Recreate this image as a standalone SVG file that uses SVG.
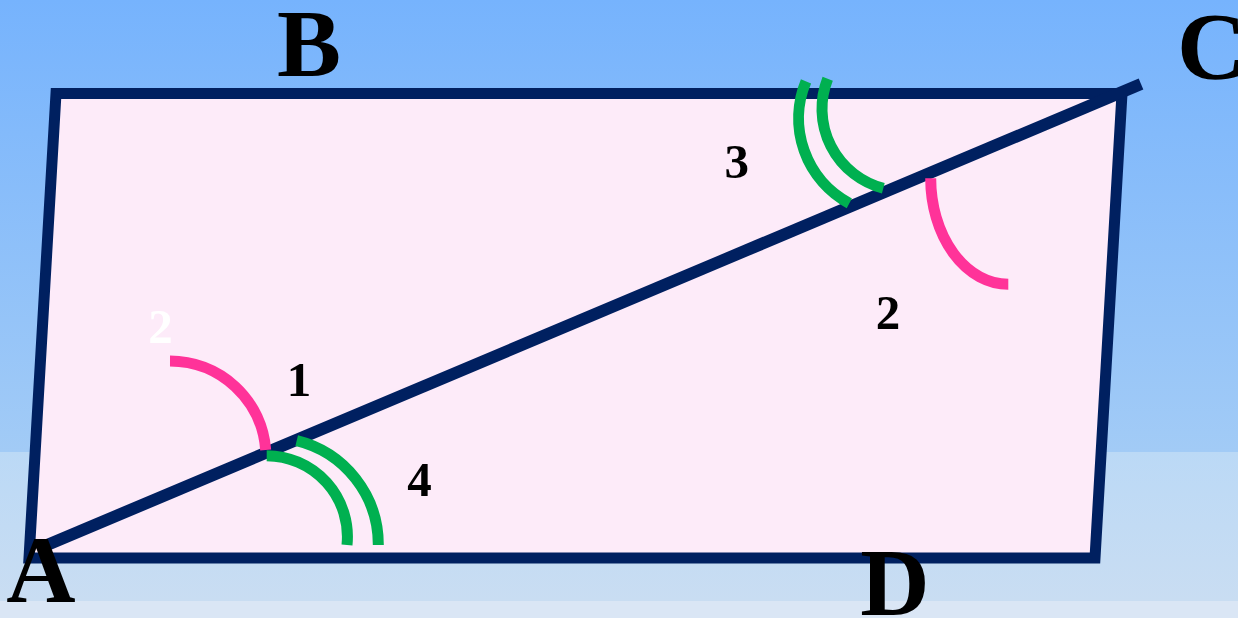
<svg xmlns="http://www.w3.org/2000/svg" width="1238" height="618" viewBox="0 0 1238 618">
<defs>
<linearGradient id="sky" x1="0" y1="0" x2="0" y2="1">
<stop offset="0" stop-color="#76b3fd"/>
<stop offset="1" stop-color="#a2cbf6"/>
</linearGradient>
<linearGradient id="band" x1="0" y1="0" x2="0" y2="1">
<stop offset="0" stop-color="#bbd9f6"/>
<stop offset="1" stop-color="#c9ddf2"/>
</linearGradient>
</defs>
<style>
.edge{fill:#fdebf9;stroke:#002060;stroke-width:11;stroke-linejoin:miter}
.green{fill:none;stroke:#00b050;stroke-width:11}
.pink{fill:none;stroke:#ff3399;stroke-width:11}
.big{font-family:"Liberation Serif","Times New Roman",serif;font-weight:bold;font-size:96px;fill:#000}
.num{font-family:"Liberation Serif","Times New Roman",serif;font-weight:bold;font-size:49px;fill:#000;text-anchor:middle}
.white{fill:#ffffff}
</style>
<rect x="0" y="0" width="1238" height="452" fill="url(#sky)"/>
<rect x="0" y="452" width="1238" height="149" fill="url(#band)"/>
<rect x="0" y="601" width="1238" height="17" fill="#dae6f5"/>

<g id="parallelogram">
<polygon points="56,93.5 1122,93.5 1095,558 29,558" class="edge"/>
</g>

<g id="connectors">
<line x1="40" y1="548" x2="1141" y2="84" stroke="#002060" stroke-width="12"/>
</g>

<g id="angle-marks">
<path class="pink" d="M170,361 A96 96 0 0 1 265.7,450"/>
<path class="green" d="M266.7,455.7 A81 81 0 0 1 347,545"/>
<path class="green" d="M296.7,440.7 A107 107 0 0 1 378.3,545"/>
<path class="green" d="M806,81.3 A96.6 96.6 0 0 0 849.3,203.3"/>
<path class="green" d="M827.7,78.7 A82.2 82.2 0 0 0 883.3,188.3"/>
<path class="pink" d="M930.7,178.3 A77.6 106 0 0 0 1008.3,284.3"/>
</g>

<g id="labels">
<text id="label-B" class="big" x="309" y="76" text-anchor="middle">B</text>
<text id="label-C" class="big" x="1177" y="79">C</text>
<text id="label-A" class="big" x="41" y="602" text-anchor="middle">A</text>
<text id="label-D" class="big" x="895" y="615" text-anchor="middle">D</text>
<text class="num" x="299" y="396">1</text>
<text class="num" x="419.5" y="496">4</text>
<text class="num white" x="160.5" y="343">2</text>
<text class="num" x="736.7" y="178">3</text>
<text class="num" x="888" y="329">2</text>
</g>
</svg>
